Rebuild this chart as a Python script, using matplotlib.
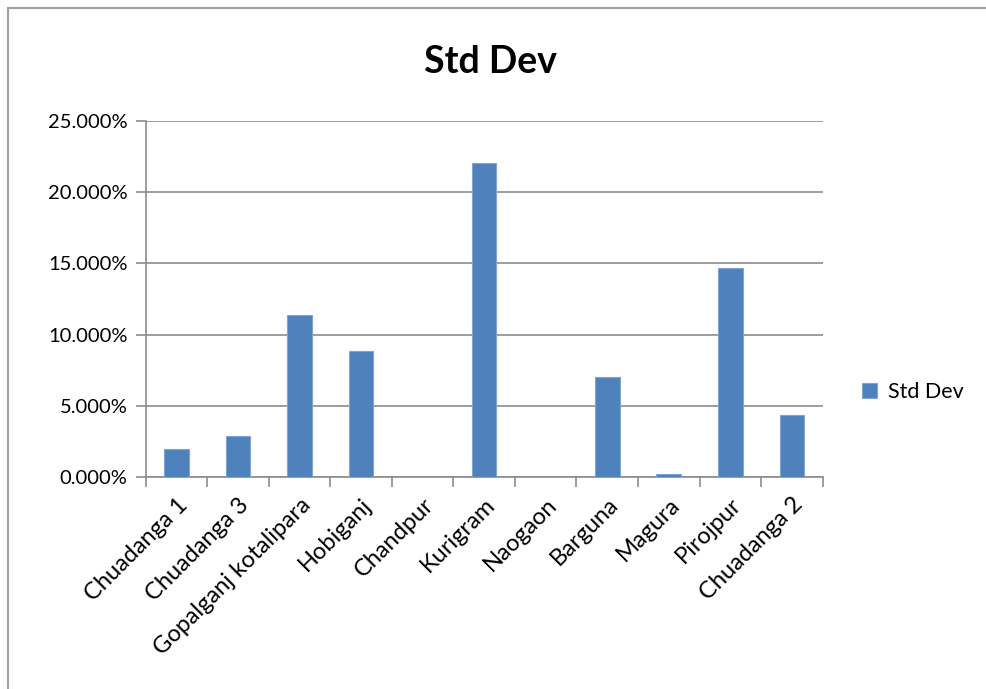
import matplotlib

matplotlib.use("Agg")
import matplotlib.pyplot as plt
import numpy as np
from matplotlib.patches import Rectangle
from matplotlib.ticker import FuncFormatter, FixedLocator

plt.rcParams["font.family"] = ["Lato", "DejaVu Sans"]

regions = [
    "Chuadanga 1", "Chuadanga 3", "Gopalganj kotalipara", "Hobiganj", "Chandpur",
    "Kurigram", "Naogaon", "Barguna", "Magura", "Pirojpur", "Chuadanga 2",
]
std_dev = [0.0200, 0.0292, 0.1135, 0.0887, 0.0, 0.2207, 0.0, 0.0705, 0.0021, 0.1469, 0.0434]
series_name = "Std Dev"

BAR_COLOR = "#4F81BD"
GRID_COLOR = "#8C8C8C"

fig = plt.figure(figsize=(9.87, 6.89), dpi=100)
fig.patches.append(Rectangle((0.008, -0.05), 1.2, 1.038, transform=fig.transFigure,
                             fill=False, edgecolor="#A0A0A0", linewidth=1.5))

ax = fig.add_axes([0.1476, 0.3073, 0.6859, 0.5175])
x = np.arange(len(regions))
ax.bar(x, std_dev, width=0.4, color=BAR_COLOR, edgecolor="#7FA5D5", linewidth=0.8,
       label=series_name, zorder=3)

ax.set_xlim(-0.5, len(regions) - 0.5)
ax.set_ylim(0, 0.25)
ax.set_yticks(np.arange(0, 0.2501, 0.05))
ax.yaxis.set_major_formatter(FuncFormatter(lambda v, _: f"{v * 100:.3f}%"))
ax.yaxis.grid(True, color=GRID_COLOR, linewidth=1.2, zorder=0)

# category boundaries carry the tick marks, labels sit under the bars
ax.xaxis.set_major_locator(FixedLocator(np.arange(-0.5, len(regions), 1.0)))
ax.xaxis.set_major_formatter(FuncFormatter(lambda v, _: ""))
ax.set_xticks(x, minor=True)
ax.set_xticklabels(regions, minor=True, rotation=45, ha="right", va="top",
                   rotation_mode="anchor", fontsize=17)
ax.tick_params(axis="x", which="minor", length=0, pad=12)
ax.tick_params(axis="x", which="major", length=7, width=1.2, color=GRID_COLOR)
ax.tick_params(axis="y", length=7, width=1.2, color=GRID_COLOR, labelsize=14.5, pad=6)

for side in ("top", "right"):
    ax.spines[side].set_visible(False)
for side in ("left", "bottom"):
    ax.spines[side].set_color(GRID_COLOR)
    ax.spines[side].set_linewidth(1.2)

fig.text(0.4965, 0.91, "Std Dev", ha="center", va="center", fontsize=27, fontweight="bold")

ax.legend(loc="center left", bbox_to_anchor=(1.03, 0.24), frameon=False, fontsize=15.5,
          handlelength=0.7, handleheight=0.7, handletextpad=0.5)

fig.savefig("out.png", dpi=100)
